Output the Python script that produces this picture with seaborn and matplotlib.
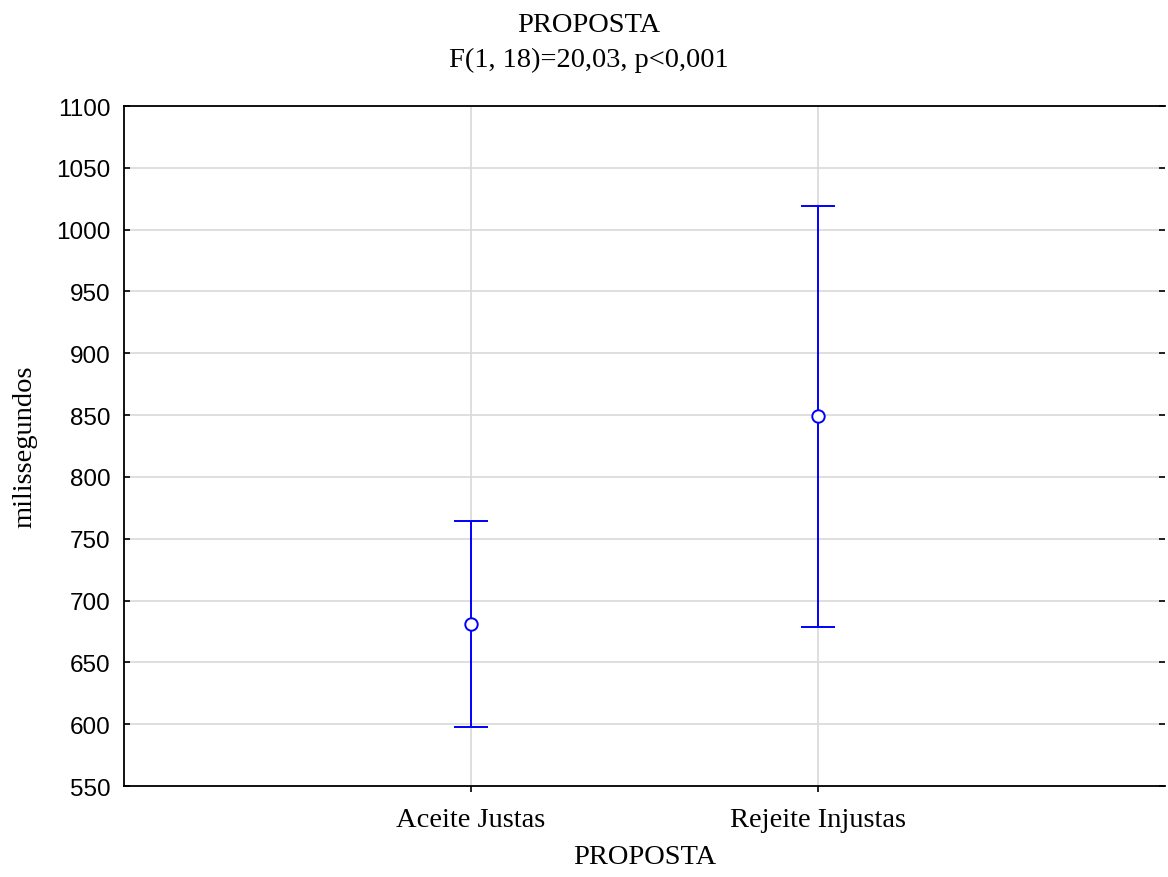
import numpy as np
import pandas as pd
import matplotlib
matplotlib.use('Agg')
import matplotlib.pyplot as plt
import seaborn as sns

# Data
categories = ['Aceite Justas', 'Rejeite Injustas']
means = [681, 849]
lower = [598, 679]
upper = [764, 1019]
yticks = list(range(550, 1101, 50))

df = pd.DataFrame({'PROPOSTA': categories, 'media': means})
df['pos'] = np.arange(len(categories))

sns.set_style('white')
plt.rcParams['font.family'] = ['Liberation Serif', 'DejaVu Serif']
plt.rcParams['text.color'] = 'black'
plt.rcParams['axes.labelcolor'] = 'black'

fig = plt.figure(figsize=(11.68, 8.78), dpi=100)
ax = fig.add_axes([0.1062, 0.1036, 0.9975 - 0.1062, 0.8781 - 0.1036])

blue = '#0000ff'
err = [np.array(means) - np.array(lower), np.array(upper) - np.array(means)]
ax.errorbar(df['pos'], df['media'], yerr=err, fmt='none', ecolor=blue,
            elinewidth=1.4, capsize=12, capthick=1.4, zorder=3)
sns.scatterplot(data=df, x='pos', y='media', ax=ax, marker='o', s=80,
                facecolor='white', edgecolor=blue, linewidth=1.4, zorder=4)

ax.set_xlim(-1, len(categories))
ax.set_ylim(550, 1100)
ax.set_xticks(df['pos'])
ax.set_xticklabels(categories, fontsize=20.5)
ax.set_yticks(yticks)
ax.set_yticklabels([str(v) for v in yticks], fontsize=17.5,
                   family=['Liberation Sans', 'DejaVu Sans'])

ax.grid(True, color='#d9d9d9', linewidth=1.2)
ax.set_axisbelow(True)

for side in ['left', 'bottom', 'top']:
    ax.spines[side].set_color('black')
    ax.spines[side].set_linewidth(1.3)
ax.spines['right'].set_visible(False)

ax.tick_params(axis='y', which='both', direction='in', length=4, width=1.2,
               left=True, right=True, pad=9.5, colors='black')
ax.tick_params(axis='x', direction='out', length=4, width=1.2, bottom=True,
               pad=11, colors='black')

ax.set_xlabel('PROPOSTA', fontsize=20.5, labelpad=9, color='black')
ax.set_ylabel('milissegundos', fontsize=20.5, labelpad=14, color='black')

fig.text(0.504, 0.964, 'PROPOSTA', ha='center', va='baseline', fontsize=20.5,
         color='black')
fig.text(0.504, 0.924, 'F(1, 18)=20,03, p<0,001', ha='center', va='baseline',
         fontsize=20.5, color='black')

fig.savefig('out.png', dpi=100)
